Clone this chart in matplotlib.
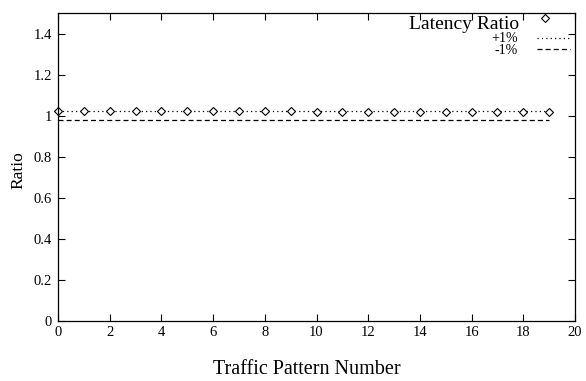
import numpy as np
import matplotlib.pyplot as plt
from matplotlib.lines import Line2D

# traffic pattern index and measured latency ratio
patterns = list(range(20))
latency_ratio = [1.024, 1.024, 1.023, 1.023, 1.022, 1.022, 1.022, 1.021, 1.021, 1.021,
                 1.020, 1.020, 1.020, 1.019, 1.019, 1.019, 1.019, 1.018, 1.018, 1.017]
plus_one = 1.023
minus_one = 0.981

x_ticks = list(range(0, 21, 2))
y_ticks = [0, 0.2, 0.4, 0.6, 0.8, 1, 1.2, 1.4]
y_labels = ["0", "0.2", "0.4", "0.6", "0.8", "1", "1.2", "1.4"]
key_labels = ["Latency Ratio", "+1%", "-1%"]

plt.rcParams['font.family'] = ['Liberation Serif', 'DejaVu Serif']

W, H = 586, 381
fig = plt.figure(figsize=(W / 100, H / 100), dpi=100)
ax = fig.add_axes([58 / W, 1 - 321 / H, (575 - 58) / W, (321 - 13) / H])

dotted = (0, (1, 2.5))
dashed = (0, (4, 2.5))
diamond = dict(linestyle='none', marker='D', markersize=3.7, markerfacecolor='white',
               markeredgecolor='black', markeredgewidth=0.8)

# reference lines and points
ax.plot([patterns[0], patterns[-1]], [plus_one, plus_one], color='black', lw=0.9,
        linestyle=dotted)
ax.plot([patterns[0], patterns[-1]], [minus_one, minus_one], color='black', lw=0.9,
        linestyle=dashed)
ax.plot(patterns, latency_ratio, clip_on=False, **diamond)

ax.set_xlim(0, 20)
ax.set_ylim(0, 1.5)
ax.set_xticks(x_ticks)
ax.set_yticks(y_ticks)
ax.set_yticklabels(y_labels)
ax.tick_params(direction='in', top=True, right=True, length=5, width=0.8,
               labelsize=10.5)
ax.tick_params(axis='x', pad=3.5)
ax.tick_params(axis='y', pad=4.5)
for sp in ax.spines.values():
    sp.set_linewidth(0.9)

ax.set_xlabel("Traffic Pattern Number", fontsize=14.5)
ax.xaxis.set_label_coords((307 - 58) / 517, -(360 - 321) / 308)
ax.set_ylabel("Ratio", fontsize=12.5)
ax.yaxis.set_label_coords(-(58 - 26) / 517, 0.49)


# gnuplot-like key, placed in figure pixels
def fx(px):
    return px / W


def fy(py):
    return 1 - py / H


fig.text(fx(519), fy(29), key_labels[0], ha='right', va='baseline', fontsize=14)
fig.add_artist(Line2D([fx(545)], [fy(18)], transform=fig.transFigure, **diamond))
fig.text(fx(518), fy(39), key_labels[1], ha='right', va='center', fontsize=10)
fig.add_artist(Line2D([fx(537), fx(570)], [fy(38), fy(38)], transform=fig.transFigure,
                      color='black', lw=0.9, linestyle=dotted))
fig.text(fx(518), fy(50.5), key_labels[2], ha='right', va='center', fontsize=10)
fig.add_artist(Line2D([fx(537), fx(570)], [fy(48.5), fy(48.5)], transform=fig.transFigure,
                      color='black', lw=0.9, linestyle=dashed))

fig.savefig("out.png", dpi=100)
